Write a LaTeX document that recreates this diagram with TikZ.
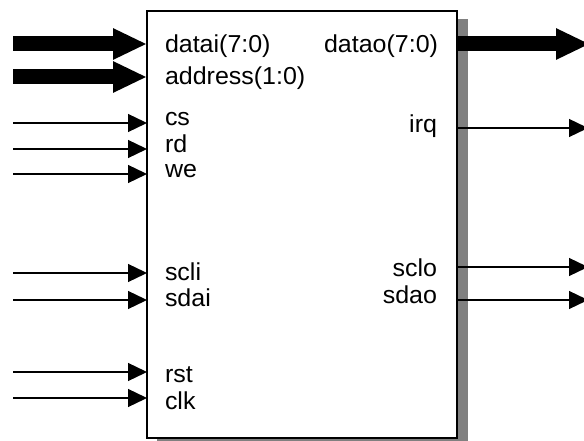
\documentclass[tikz,border=0pt]{standalone}
\usepackage{fontspec}
\setmainfont{Liberation Sans}[FakeStretch=1.02]
\usetikzlibrary{arrows.meta}
\begin{document}
\begin{tikzpicture}[x=1bp,y=-1bp,
  lbl/.style={inner sep=0pt, outer sep=0pt, font=\fontsize{24.5bp}{28bp}\selectfont},
  lblL/.style={lbl, anchor=base west},
  lblR/.style={lbl, anchor=base east},
  bus/.style={line width=15bp, -{Triangle[length=34bp,width=29bp]}},
  sig/.style={line width=1.3bp, -{Triangle[length=19bp,width=18bp]}},
  blockbox/.style={draw=black, fill=white, line width=1.5bp, inner sep=0pt, outer sep=0pt,
    anchor=north west, minimum width=310bp, minimum height=427bp}]
\useasboundingbox (0,0) rectangle (584,441);
% shadow
\fill[black!50] (157,19) rectangle (468,449);
% block
\node[blockbox] (box) at (147,11) {};
% input coordinates
\coordinate (i1) at (13,44);
\coordinate (i2) at (13,77);
\coordinate (i3) at (13,123);
\coordinate (i4) at (13,149);
\coordinate (i5) at (13,174);
\coordinate (i6) at (13,273);
\coordinate (i7) at (13,300);
\coordinate (i8) at (13,372);
\coordinate (i9) at (13,398);
% output coordinates
\coordinate (o1) at (590,44);
\coordinate (o2) at (588,128);
\coordinate (o3) at (588,267);
\coordinate (o4) at (588,300);
% input arrows
\draw[bus] (i1) -- (box.west |- i1);
\draw[bus] (i2) -- (box.west |- i2);
\draw[sig] (i3) -- (box.west |- i3);
\draw[sig] (i4) -- (box.west |- i4);
\draw[sig] (i5) -- (box.west |- i5);
\draw[sig] (i6) -- (box.west |- i6);
\draw[sig] (i7) -- (box.west |- i7);
\draw[sig] (i8) -- (box.west |- i8);
\draw[sig] (i9) -- (box.west |- i9);
% output arrows
\draw[bus] (box.east |- o1) -- (o1);
\draw[sig] (box.east |- o2) -- (o2);
\draw[sig] (box.east |- o3) -- (o3);
\draw[sig] (box.east |- o4) -- (o4);
% labels
\node[lblL] (t1) at (165,53) {datai(7:0)};
\node[lblL] (t2) at (165,85) {address(1:0)};
\node[lblL] (t3) at (165,126) {cs};
\node[lblL] (t4) at (165,153) {rd};
\node[lblL] (t5) at (165,178) {we};
\node[lblL] (t6) at (165,281) {scli};
\node[lblL] (t7) at (165,306) {sdai};
\node[lblL] (t8) at (165,382) {rst};
\node[lblL] (t9) at (165,409) {clk};
\node[lblR] (u1) at (438,53) {datao(7:0)};
\node[lblR] (u2) at (437,133) {irq};
\node[lblR] (u3) at (437,277) {sclo};
\node[lblR] (u4) at (437,303) {sdao};
\end{tikzpicture}
\end{document}
